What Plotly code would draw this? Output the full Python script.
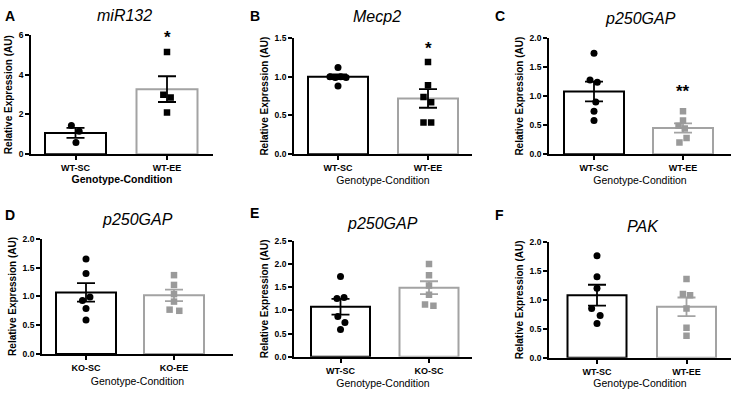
import plotly.graph_objects as go

# ---------------- data ----------------
panel_letters = ["A", "B", "C", "D", "E", "F"]
panel_titles = ["miR132", "Mecp2", "p250GAP", "p250GAP", "p250GAP", "PAK"]
group_labels = [["WT-SC", "WT-EE"], ["WT-SC", "WT-EE"], ["WT-SC", "WT-EE"],
                ["KO-SC", "KO-EE"], ["WT-SC", "KO-SC"], ["WT-SC", "WT-EE"]]

bar_means = [[1.07, 3.28], [1.00, 0.72], [1.08, 0.45],
             [1.07, 1.02], [1.08, 1.49], [1.08, 0.88]]
bar_sem = [[0.25, 0.65], [0.03, 0.12], [0.17, 0.08],
           [0.16, 0.10], [0.17, 0.14], [0.18, 0.16]]

points_g1 = [
    [1.45, 1.15, 0.59],
    [1.12, 1.00, 0.99, 1.00, 0.99, 0.88],
    [1.74, 1.28, 1.24, 0.90, 0.74, 0.58],
    [1.65, 1.40, 0.93, 0.99, 0.79, 0.59],
    [1.73, 1.28, 1.26, 0.87, 0.74, 0.59],
    [1.76, 1.40, 1.20, 0.85, 0.73, 0.59],
]
points_g2 = [
    [5.15, 3.00, 2.86, 2.10],
    [1.19, 0.89, 0.74, 0.67, 0.41, 0.41],
    [0.74, 0.58, 0.49, 0.44, 0.28, 0.20],
    [1.37, 1.20, 1.04, 0.91, 0.77, 0.75],
    [2.00, 1.76, 1.54, 1.34, 1.13, 1.10],
    [1.36, 1.10, 1.08, 0.85, 0.52, 0.38],
]
significance = ["*", "*", "**", "", "", ""]
sig_level = [5.9, 1.36, 1.08, None, None, None]

y_ticks = [[0, 2, 4, 6], [0, 0.5, 1.0, 1.5], [0, 0.5, 1.0, 1.5, 2.0],
           [0, 0.5, 1.0, 1.5, 2.0], [0, 0.5, 1.0, 1.5, 2.0, 2.5],
           [0, 0.5, 1.0, 1.5, 2.0]]

# ---------------- styling / layout ----------------
W, H = 734, 395
FONT = "Liberation Sans, Arial, Helvetica, sans-serif"
GRAY = "#a3a3a3"

jit1 = [[-0.045, 0.04, 0.005],
        [0.0, -0.09, -0.03, 0.03, 0.09, 0.0],
        [0.0, -0.045, 0.037, 0.02, 0.0, 0.0],
        [0.0, 0.0, -0.04, 0.045, 0.0, 0.0],
        [0.0, 0.04, -0.04, -0.03, 0.05, 0.0],
        [0.0, 0.0, 0.0, -0.06, 0.035, 0.0]]
jit2 = [[0.0, -0.04, 0.04, 0.0],
        [0.0, 0.0, -0.05, 0.035, -0.05, 0.035],
        [0.0, 0.0, -0.05, 0.02, 0.04, -0.04],
        [0.0, 0.0, 0.0, 0.0, -0.05, 0.06],
        [0.0, 0.0, 0.0, 0.0, -0.045, 0.05],
        [0.0, -0.04, 0.04, 0.0, 0.0, 0.0]]

# pixel geometry per panel: x-left, x-right, center1, center2, bar px, y-top, y-bottom
geom = [
    (31, 213, 75.5, 167, 61, 31, 153),
    (294, 472, 338, 428, 60, 34, 153),
    (549, 731, 594, 683, 60, 34, 153),
    (42, 233, 86, 174, 60, 240, 358),
    (294, 472, 340.5, 429, 59, 242, 361),
    (549, 731, 597, 686.5, 59, 243, 362),
]
title_pos = [(125, 11), (377, 12), (640, 14), (137, 220), (382, 224), (643, 227)]
letter_pos = [(3, 11), (248, 11), (493, 11), (3, 215), (248, 213), (493, 215)]
g2_dark = [True, True, False, False, False, False]
xtitle_bold = [True, False, False, False, False, False]
xtitle_standoff = [1, 5, 5, 6, 5, 4]

fig = go.Figure()
annotations = []

for i in range(6):
    xl, xr, c1, c2, bpx, yt, yb = geom[i]
    s = c2 - c1
    lo = -(c1 - xl) / s
    hi = 1 + (xr - c2) / s
    bw = bpx / s
    ax = "" if i == 0 else str(i + 1)
    xref, yref = "x" + ax, "y" + ax
    col2_pts = "black" if g2_dark[i] else "#9a9a9a"
    col2_err = "black" if g2_dark[i] else GRAY

    for g, (col_line, col_err) in enumerate([("black", "black"), (GRAY, col2_err)]):
        fig.add_trace(go.Bar(
            x=[g], y=[bar_means[i][g]], width=[bw],
            marker=dict(color="white", line=dict(color=col_line, width=2)),
            error_y=dict(type="data", array=[bar_sem[i][g]], color=col_err,
                         thickness=1.8, width=9),
            xaxis=xref, yaxis=yref, showlegend=False, hoverinfo="skip"))

    fig.add_trace(go.Scatter(
        x=[0 + j for j in jit1[i]], y=points_g1[i], mode="markers",
        marker=dict(symbol="circle", size=7, color="black"),
        xaxis=xref, yaxis=yref, showlegend=False))
    fig.add_trace(go.Scatter(
        x=[1 + j for j in jit2[i]], y=points_g2[i], mode="markers",
        marker=dict(symbol="square", size=6.5, color=col2_pts),
        xaxis=xref, yaxis=yref, showlegend=False))

    if significance[i]:
        annotations.append(dict(x=1, y=sig_level[i], xref=xref, yref=yref,
                                text="<b>%s</b>" % significance[i], showarrow=False,
                                font=dict(family=FONT, size=17, color="#000000")))

    xt = "Genotype-Condition"
    if xtitle_bold[i]:
        xt = "<b>" + xt + "</b>"
    fmt = (lambda v: "%d" % v) if i == 0 else (lambda v: "%.1f" % v)
    fig.update_layout(**{
        "xaxis" + ax: dict(
            domain=[xl / W, xr / W], range=[lo, hi], anchor=yref,
            tickmode="array", tickvals=[0, 1],
            ticktext=["<b>%s</b>" % t for t in group_labels[i]],
            showline=True, linecolor="black", linewidth=1.8,
            ticks="outside", ticklen=4, tickwidth=1.5, tickcolor="black",
            showgrid=False, zeroline=False, fixedrange=True,
            tickfont=dict(family=FONT, size=9, color="black"),
            title=dict(text=xt, font=dict(family=FONT, size=10.5, color="black"),
                       standoff=xtitle_standoff[i])),
        "yaxis" + ax: dict(
            domain=[1 - yb / H, 1 - yt / H], range=[0, y_ticks[i][-1]], anchor=xref,
            tickmode="array", tickvals=y_ticks[i],
            ticktext=["<b>%s</b>" % fmt(v) for v in y_ticks[i]],
            showline=True, linecolor="black", linewidth=1.8,
            ticks="outside", ticklen=4, tickwidth=1.5, tickcolor="black",
            showgrid=False, zeroline=False, fixedrange=True,
            tickfont=dict(family=FONT, size=8.5, color="black"),
            title=dict(text="<b>Relative Expression (AU)</b>",
                       font=dict(family=FONT, size=10, color="black"),
                       standoff=4)),
    })

    tx, ty = title_pos[i]
    annotations.append(dict(x=tx / W, y=1 - ty / H, xref="paper", yref="paper",
                            text="<i>%s</i>" % panel_titles[i], showarrow=False,
                            xanchor="center", yanchor="middle",
                            font=dict(family=FONT, size=16, color="black")))
    lx, ly = letter_pos[i]
    annotations.append(dict(x=lx / W, y=1 - ly / H, xref="paper", yref="paper",
                            text="<b>%s</b>" % panel_letters[i], showarrow=False,
                            xanchor="left", yanchor="middle",
                            font=dict(family=FONT, size=14, color="black")))

fig.update_layout(
    width=W, height=H, margin=dict(l=0, r=0, t=0, b=0),
    paper_bgcolor="white", plot_bgcolor="white",
    barmode="overlay", annotations=annotations,
    font=dict(family=FONT, color="black"),
)

fig.write_html("out.html", config={"displayModeBar": False},
               post_script="document.body.style.margin='0';")
